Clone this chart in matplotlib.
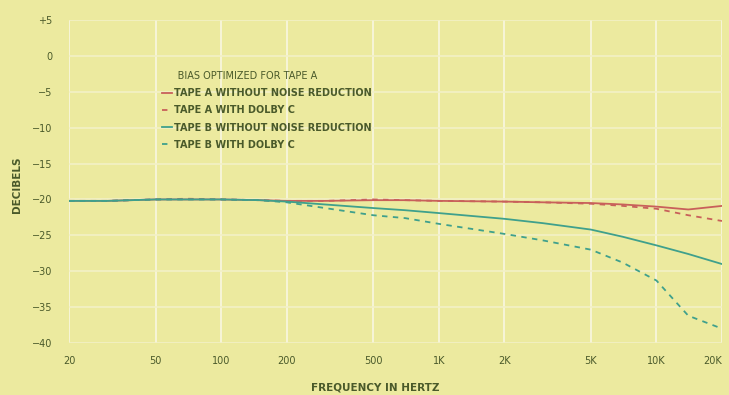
import matplotlib
matplotlib.use("Agg")
import matplotlib.pyplot as plt
from matplotlib.ticker import FixedLocator, NullLocator

plt.rcParams['font.family'] = ['DejaVu Sans Condensed', 'Liberation Sans Narrow', 'DejaVu Sans']

# frequencies (Hz) and responses (dB)
freq = [20, 30, 50, 70, 100, 150, 200, 300, 500, 700, 1000, 2000, 3000,
        5000, 7000, 10000, 14000, 20000]
tape_a_plain = [-20.2, -20.2, -20.0, -20.0, -20.0, -20.1, -20.2, -20.2, -20.1,
                -20.1, -20.2, -20.3, -20.4, -20.5, -20.7, -21.0, -21.4, -20.9]
tape_a_dolby = [-20.2, -20.2, -20.0, -19.9, -20.0, -20.1, -20.2, -20.2, -20.0,
                -20.1, -20.2, -20.3, -20.4, -20.6, -20.9, -21.3, -22.2, -23.0]
tape_b_plain = [-20.2, -20.2, -20.0, -20.0, -20.0, -20.1, -20.3, -20.7, -21.2,
                -21.5, -21.9, -22.7, -23.3, -24.2, -25.2, -26.4, -27.6, -29.0]
tape_b_dolby = [-20.2, -20.2, -20.0, -20.0, -20.0, -20.1, -20.4, -21.2, -22.2,
                -22.6, -23.4, -24.8, -25.7, -27.0, -28.8, -31.3, -36.2, -38.0]

xticks = [20, 50, 100, 200, 500, 1000, 2000, 5000, 10000, 20000]
xlabels = ["20", "50", "100", "200", "500", "1K", "2K", "5K", "10K", "20K"]
yticks = [5, 0, -5, -10, -15, -20, -25, -30, -35, -40]
ylabels = ["+5", "0", "\u22125", "\u221210", "\u221215", "\u221220",
           "\u221225", "\u221230", "\u221235", "\u221240"]

bg = "#ecea9f"
ink = "#4a5a2a"
red = "#c8605a"
teal = "#3fa08c"

fig = plt.figure(figsize=(7.29, 3.95), dpi=100, facecolor=bg)
ax = fig.add_axes([69 / 729, 52 / 395, 653 / 729, 323 / 395], facecolor=bg)

ax.plot(freq, tape_a_plain, color=red, lw=1.3, label="TAPE A WITHOUT NOISE REDUCTION")
ax.plot(freq, tape_a_dolby, color=red, lw=1.3, ls=(0, (3, 3)), label="TAPE A WITH DOLBY C")
ax.plot(freq, tape_b_plain, color=teal, lw=1.3, label="TAPE B WITHOUT NOISE REDUCTION")
ax.plot(freq, tape_b_dolby, color=teal, lw=1.3, ls=(0, (3, 3)), label="TAPE B WITH DOLBY C")

ax.set_xscale("log")
ax.set_xlim(20, 20000)
ax.set_ylim(-40, 5)
ax.xaxis.set_major_locator(FixedLocator(xticks))
ax.xaxis.set_minor_locator(NullLocator())
ax.set_xticklabels(xlabels)
ax.set_yticks(yticks)
ax.set_yticklabels(ylabels)
ax.tick_params(length=0, labelsize=7, colors=ink)
ax.tick_params(axis="x", pad=9)
ax.tick_params(axis="y", pad=12)
ax.get_xticklabels()[-1].set_ha("right")
for s in ax.spines.values():
    s.set_visible(False)
ax.grid(True, axis="x", color="#f7f5d8", lw=1.4)
ax.grid(True, axis="y", color="#f3f1c6", lw=1.2)
ax.set_axisbelow(True)

fig.text(375 / 729, 1 - 387 / 395, "FREQUENCY IN HERTZ", fontsize=7.5,
         color=ink, ha="center", va="center", fontweight="bold")
fig.text(17 / 729, 1 - 185 / 395, "DECIBELS", rotation=90, fontsize=7.5,
         color=ink, ha="center", va="center", fontweight="bold")

leg = ax.legend(loc="upper left", bbox_to_anchor=(0.137, 0.855), frameon=False,
                title="     BIAS OPTIMIZED FOR TAPE A", alignment="left",
                handlelength=1.0, handletextpad=0.2, labelspacing=0.75,
                fontsize=7, title_fontsize=7, borderaxespad=0)
for t in leg.get_texts():
    t.set_color(ink)
    t.set_fontweight("bold")
leg.get_title().set_color(ink)

fig.savefig("out.png", dpi=100, facecolor=bg)
